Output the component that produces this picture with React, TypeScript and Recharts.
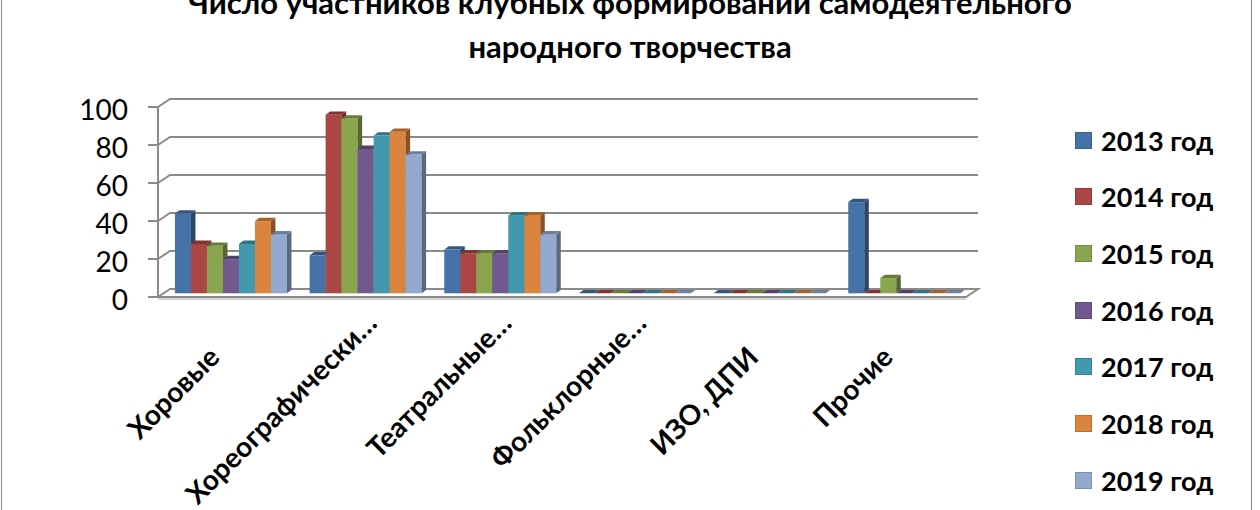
import React from 'react'
import { BarChart, Bar, XAxis, YAxis, CartesianGrid } from 'recharts'

const categories = ['Хоровые', 'Хореографически…', 'Театральные…', 'Фольклорные…', 'ИЗО, ДПИ', 'Прочие']
const years = ['2013 год', '2014 год', '2015 год', '2016 год', '2017 год', '2018 год', '2019 год']
const colors = ['#4572A7', '#AA4643', '#89A54E', '#71588F', '#4198AF', '#DB843D', '#93A9CF']

const v2013 = [42, 20, 23, 0, 0, 48]
const v2014 = [26, 94, 21, 0, 0, 0]
const v2015 = [25, 92, 21, 0, 0, 8]
const v2016 = [18, 76, 21, 0, 0, 0]
const v2017 = [26, 83, 41, 0, 0, 0]
const v2018 = [38, 85, 41, 0, 0, 0]
const v2019 = [31, 73, 31, 0, 0, 0]
const seriesValues = [v2013, v2014, v2015, v2016, v2017, v2018, v2019]

const yTicks = [0, 20, 40, 60, 80, 100]

const data = categories.map((name, i) => {
  const row: Record<string, string | number> = { name }
  years.forEach((y, s) => { row[y] = seriesValues[s][i] })
  return row
})

const FONT = "Lato, 'Noto Sans', sans-serif"
const GRID = '#8a8a8a'

// 3D-ish offsets: back wall and middle depth (where the bars stand)
const BACK_DX = 12
const BACK_DY = 8
const MID_DX = 5.5
const MID_DY = 3.7
const BAR_DX = 4.5
const BAR_DY = 3.3

function shade(hex: string, k: number) {
  const n = parseInt(hex.slice(1), 16)
  const r = Math.round(((n >> 16) & 255) * k)
  const g = Math.round(((n >> 8) & 255) * k)
  const b = Math.round((n & 255) * k)
  return `rgb(${r},${g},${b})`
}

const Bar3D = (props: any) => {
  const { x, y, width, height, fill } = props
  const fx = x + MID_DX
  const fy = y - MID_DY
  const w = width
  const h = Math.max(height || 0, 0)
  return (
    <g>
      <rect x={fx} y={fy} width={w} height={h} fill={fill} />
      <polygon
        points={`${fx + w},${fy} ${fx + w + BAR_DX},${fy - BAR_DY} ${fx + w + BAR_DX},${fy + h - BAR_DY} ${fx + w},${fy + h}`}
        fill={shade(fill, 0.62)}
      />
      <polygon
        points={`${fx},${fy} ${fx + BAR_DX},${fy - BAR_DY} ${fx + w + BAR_DX},${fy - BAR_DY} ${fx + w},${fy}`}
        fill={shade(fill, 0.75)}
      />
    </g>
  )
}

// horizontal grid drawn on the back wall, with the floor for the zero line
const gridLine = (p: any) => {
  const { x1, x2, y1, index } = p
  if (index === 0 || Math.abs(y1 - 297) < 1) {
    return (
      <g key={`g-${index}`}>
        <polygon
          points={`${x1},${y1} ${x2},${y1} ${x2 + BACK_DX},${y1 - BACK_DY} ${x1 + BACK_DX},${y1 - BACK_DY}`}
          fill="#fff"
          stroke={GRID}
          strokeWidth={2}
        />
        <line x1={x1} y1={y1 + 2} x2={x2} y2={y1 + 2} stroke="#c8c8c8" strokeWidth={1.5} />
      </g>
    )
  }
  return (
    <path
      key={`g-${index}`}
      d={`M${x1},${y1} L${x1 + BACK_DX},${y1 - BACK_DY} L${x2 + BACK_DX},${y1 - BACK_DY}`}
      fill="none"
      stroke={GRID}
      strokeWidth={2}
    />
  )
}

const CategoryTick = (props: any) => {
  const { x, y, payload } = props
  const label: string = payload.value
  const cut = label.endsWith('…')
  return (
    <g transform={`translate(${x - 4},${y + 62}) rotate(-45)`}>
      <text
        x={cut ? 40 : 0}
        y={cut ? -8 : 0}
        textAnchor="end"
        fontFamily={FONT}
        fontWeight="bold"
        fontSize={28}
        fill="#000"
      >
        {label}
      </text>
    </g>
  )
}

export default function App() {
  return (
    <div style={{ position: 'absolute', left: 0, top: 0, width: 1260, height: 510, background: '#fff', overflow: 'hidden', fontFamily: FONT }}>
      <div style={{ position: 'absolute', left: 1, top: -10, width: 1251, height: 540, border: '1.5px solid #8a8a8a', boxSizing: 'border-box' }} />
      <div style={{ position: 'absolute', left: 0, top: -20, width: 1260, textAlign: 'center', fontWeight: 'bold', fontSize: 31, lineHeight: '44px', color: '#000' }}>
        <div>Число участников клубных формирований самодеятельного</div>
        <div>народного творчества</div>
      </div>

      <BarChart
        width={1260}
        height={510}
        data={data}
        margin={{ top: 107, right: 294, bottom: 113, left: 0 }}
        barCategoryGap="8.5%"
        barGap={0}
        style={{ position: 'absolute', left: 0, top: 0 }}
      >
        <CartesianGrid vertical={false} horizontal={gridLine} />
        <XAxis
          dataKey="name"
          interval={0}
          axisLine={false}
          tickLine={false}
          tickSize={0}
          tickMargin={0}
          height={100}
          tick={<CategoryTick />}
        />
        <YAxis
          domain={[0, 100]}
          ticks={yTicks}
          width={158}
          axisLine={{ stroke: GRID, strokeWidth: 2 }}
          tickLine={{ stroke: GRID, strokeWidth: 2 }}
          tickSize={10}
          tickMargin={20}
          tick={{ fontFamily: FONT, fontSize: 28, fill: '#000', dy: 3 }}
        />
        {years.map((y, i) => (
          <Bar key={y} dataKey={y} fill={colors[i]} shape={Bar3D} isAnimationActive={false} />
        ))}
      </BarChart>

      {years.map((y, i) => (
        <div
          key={y}
          style={{ position: 'absolute', left: 1075, top: 140 + i * 56.7 - 18, height: 36, display: 'flex', alignItems: 'center' }}
        >
          <span style={{ width: 15, height: 15, background: colors[i], border: `1px solid ${shade(colors[i], 0.85)}`, display: 'inline-block', marginRight: 9 }} />
          <span style={{ fontWeight: 'bold', fontSize: 27, color: '#000' }}>{y}</span>
        </div>
      ))}
    </div>
  )
}
